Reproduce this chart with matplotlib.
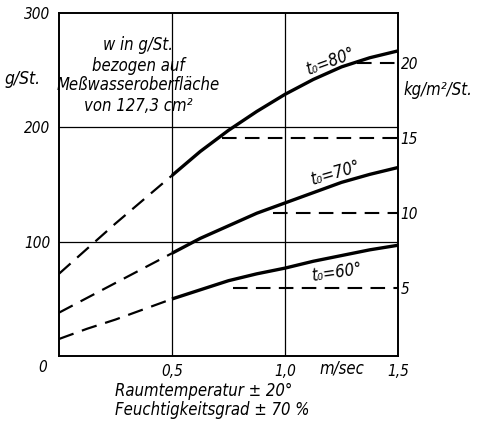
import matplotlib
matplotlib.use('Agg')
import matplotlib.pyplot as plt

plt.rcParams['font.family'] = ['DejaVu Sans']
plt.rcParams['font.style'] = 'oblique'
plt.rcParams['font.stretch'] = 'condensed'

# Speed (m/sec) and evaporation (g/St.)
speed = [0.0, 0.125, 0.25, 0.375, 0.5, 0.625, 0.75, 0.875, 1.0, 1.125, 1.25, 1.375, 1.5]
evap_80 = [72, 94, 116, 137, 158, 179, 197.5, 214, 229, 242, 253, 261, 267]
evap_70 = [38, 51, 64, 77, 90, 103, 114, 125, 134, 143, 152, 159, 165]
evap_60 = [15, 24, 32, 41, 50, 58, 66, 72, 77, 83, 88, 93, 97]
curve_labels = ['t₀=80°', 't₀=70°', 't₀=60°']

# Reference levels on the right scale (kg/m²/St.) and where their dashes start
ref_levels = [20, 15, 10, 5]
ref_starts = [1.32, 0.72, 0.945, 0.77]

x_ticks = [0.5, 1.0, 1.5]
x_ticklabels = ['0,5', '1,0', '1,5']
y_ticks = [100, 200, 300]

fig = plt.figure(figsize=(4.79, 4.24), dpi=100)
ax = fig.add_axes([0.123, 0.160, 0.708, 0.809])

ax.set_xlim(0, 1.5)
ax.set_ylim(0, 300)

# grid
for xv in [0.5, 1.0]:
    ax.axvline(xv, color='black', lw=0.9)
for yv in [100, 200]:
    ax.axhline(yv, color='black', lw=0.9)

# curves: dashed below 0.5 m/sec, solid above
for ys in [evap_80, evap_70, evap_60]:
    ax.plot(speed[:5], ys[:5], color='black', lw=1.6, dashes=(7, 4))
    ax.plot(speed[4:], ys[4:], color='black', lw=2.4, solid_capstyle='butt')

ax.text(1.2, 258, curve_labels[0], fontsize=12, rotation=20, ha='center', va='center')
ax.text(1.22, 160, curve_labels[1], fontsize=12, rotation=16, ha='center', va='center')
ax.text(1.23, 73, curve_labels[2], fontsize=12, rotation=8, ha='center', va='center')

for sp in ax.spines.values():
    sp.set_linewidth(1.4)

ax.set_xticks(x_ticks)
ax.set_xticklabels(x_ticklabels, fontsize=11)
ax.set_yticks(y_ticks)
ax.set_yticklabels([str(v) for v in y_ticks], fontsize=11)
ax.tick_params(length=0, pad=6)
ax.text(-0.07, -10, '0', fontsize=11, ha='center', va='center')
ax.text(1.25, -11, 'm/sec', fontsize=12, ha='center', va='center')

ax.text(-0.159, 242, 'g/St.', fontsize=12.5, ha='center', va='center')

ax.text(0.35, 272, 'w in g/St.', fontsize=12, ha='center', va='center')
ax.text(0.35, 254, 'bezogen auf', fontsize=12, ha='center', va='center')
ax.text(0.35, 237, 'Meßwasseroberfläche', fontsize=12, ha='center', va='center')
ax.text(0.35, 219, 'von 127,3 cm²', fontsize=12, ha='center', va='center')

# right scale
ax2 = ax.twinx()
ax2.set_ylim(0.49, 23.32)
for lvl, x0 in zip(ref_levels, ref_starts):
    ax2.plot([x0, 1.5], [lvl, lvl], color='black', lw=1.5, dashes=(7, 4))
ax2.set_yticks(ref_levels)
ax2.set_yticklabels([str(v) for v in ref_levels], fontsize=11)
ax2.tick_params(length=0, pad=2)
for sp in ax2.spines.values():
    sp.set_visible(False)
ax2.text(1.118, 0.775, 'kg/m²/St.', fontsize=12, ha='center', va='center',
         transform=ax.transAxes)

fig.text(0.24, 0.077, 'Raumtemperatur ± 20°', fontsize=12, ha='left', va='center')
fig.text(0.24, 0.032, 'Feuchtigkeitsgrad ± 70 %', fontsize=12, ha='left', va='center')

fig.savefig('out.png', dpi=100)
